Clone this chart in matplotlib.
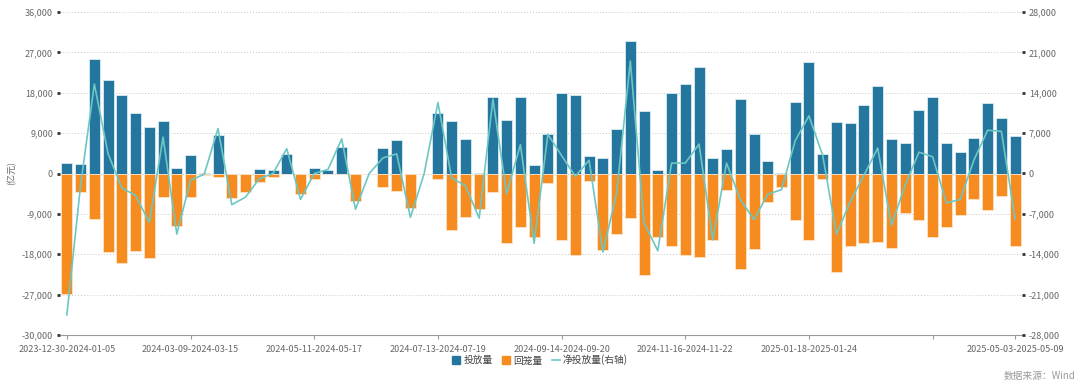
import numpy as np
import pandas as pd
import matplotlib
matplotlib.use("Agg")
import matplotlib.pyplot as plt
from matplotlib.lines import Line2D
from matplotlib.patches import Patch

plt.rcParams['font.family'] = ['Noto Sans CJK SC', 'DejaVu Sans']

# weekly buckets, the spring festival week of 2024 is missing in the source
week_start = pd.date_range("2023-12-30", periods=71, freq="7D")
week_start = week_start[week_start != pd.Timestamp("2024-02-10")]
weeks = [s.strftime("%Y-%m-%d") + "-" + (s + pd.Timedelta(days=6)).strftime("%Y-%m-%d") for s in week_start]

# 投放量 (亿元)
inflow = [2300, 2200, 25600, 20900, 17400, 13500, 10300, 11600, 1200, 4100, 200, 8500,
          0, 0, 1000, 700, 4300, 0, 1300, 700, 6000, 0, 0, 5700,
          7400, 0, 0, 13500, 11800, 7700, 150, 17100, 12000, 17000, 2000, 8900,
          18000, 17600, 3900, 3400, 10000, 29500, 14000, 700, 18000, 19900, 23800, 3400,
          5400, 16700, 8900, 2800, 200, 16000, 24900, 4300, 11400, 11200, 15200, 19600,
          7700, 6700, 14100, 17000, 6800, 4700, 8000, 15700, 12400, 8300]
# 回笼量 (亿元), drawn below zero
outflow = [26800, 4200, 10100, 17500, 19900, 17300, 18800, 5300, 11700, 5300, 300, 700,
           5400, 4100, 1900, 700, 0, 4500, 1300, 0, 0, 6200, 0, 3000,
           4000, 7600, 0, 1200, 12600, 9800, 7900, 4200, 15500, 12000, 14100, 2100,
           14900, 18100, 1600, 17000, 13500, 10000, 22600, 14100, 16200, 18100, 18700, 14900,
           3600, 21200, 16900, 6400, 3000, 10300, 14900, 1200, 21900, 16100, 15500, 15200,
           16700, 8700, 10400, 14100, 11900, 9200, 5700, 8200, 5100, 16200]

left_ticks = [36000, 27000, 18000, 9000, 0, -9000, -18000, -27000, -36000]
left_labels = ["36,000", "27,000", "18,000", "9,000", "0", "-9,000", "-18,000", "-27,000", "-30,000"]
right_ticks = [28000, 21000, 14000, 7000, 0, -7000, -14000, -21000, -28000]
xtick_idx = [0, 9, 18, 27, 36, 45, 54, 63, 69]

blue = '#24769f'
orange = '#f68b1f'
teal = '#6cc7c3'
gray = '#666666'

inflow = np.array(inflow)
outflow = np.array(outflow)
net = inflow - outflow
x = np.arange(len(weeks))

fig = plt.figure(figsize=(10.8, 3.91), dpi=100)
ax = fig.add_axes([60/1080, 56/391, 962/1080, 323/391])
ax2 = ax.twinx()

ax.bar(x, inflow, width=0.8, color=blue, edgecolor='#d8ecf3', linewidth=0.6, zorder=2)
ax.bar(x, -outflow, width=0.8, color=orange, edgecolor='#fde3c8', linewidth=0.6, zorder=2)
ax2.plot(x, net, color=teal, linewidth=1.2, zorder=3)

ax.set_xlim(-0.5, 69.5)
ax.set_ylim(-36000, 36000)
ax2.set_ylim(-28000, 28000)

ax.set_yticks(left_ticks)
ax.set_yticklabels(left_labels)
ax2.set_yticks(right_ticks)
ax2.set_yticklabels([f"{v:,}" for v in right_ticks])

ax.set_xticks(xtick_idx)
ax.set_xticklabels([weeks[i] if i != 63 else "" for i in xtick_idx])

for a in (ax, ax2):
    for s in a.spines.values():
        s.set_visible(False)
    a.tick_params(axis='y', length=2, width=2, color='#333333', labelsize=6.5, labelcolor=gray, pad=3)
ax.spines['bottom'].set_visible(True)
ax.spines['bottom'].set_color('#999999')
ax.spines['bottom'].set_linewidth(0.8)
ax.tick_params(axis='x', length=3, width=0.8, color='#999999', labelsize=6.5, labelcolor=gray, pad=4)

ax.grid(axis='y', linestyle=(0, (1, 2)), color='#c8c8c8', linewidth=0.7, zorder=0)
ax.set_axisbelow(True)

fig.text(12/1080, 1 - 173/391, "(亿元)", rotation=90, ha='center', va='center', fontsize=6.5, color=gray)

handles = [Patch(color=blue), Patch(color=orange), Line2D([0], [0], color=teal, linewidth=1.2)]
fig.legend(handles, ["投放量", "回笼量", "净投放量(右轴)"], loc='center', bbox_to_anchor=(540/1080, 1 - 360/391),
           ncol=3, frameon=False, fontsize=7, handlelength=0.8, handleheight=0.8, handletextpad=0.3,
           columnspacing=1.0, labelcolor='#444444')

fig.text(1075/1080, 1 - 376/391, "数据来源：Wind", ha='right', va='center', fontsize=7, color='#999999')

fig.savefig("out.png", dpi=100)
